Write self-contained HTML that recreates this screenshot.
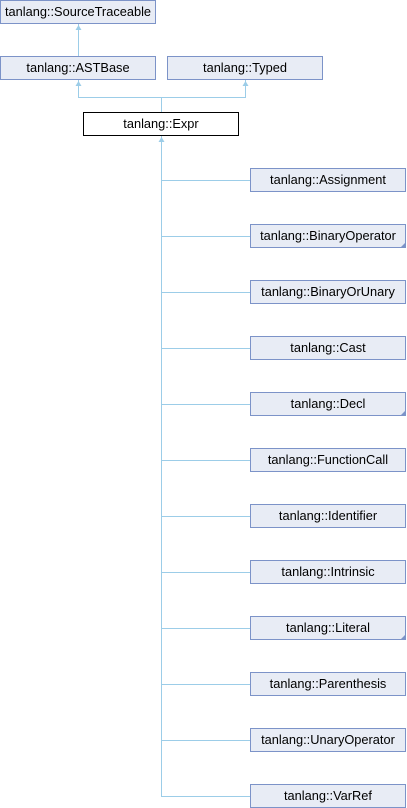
<!DOCTYPE html>
<html><head><meta charset="utf-8"><style>
html,body{margin:0;padding:0;background:#fff;}
svg{display:block;}
text{font-family:"Liberation Sans",sans-serif;font-size:12.8px;fill:#000;}
</style></head><body>
<svg width="407" height="808" viewBox="0 0 407 808" xmlns="http://www.w3.org/2000/svg">
<g stroke="#9ccde8" stroke-width="1" fill="none" shape-rendering="crispEdges">
<line x1="78.5" y1="24" x2="78.5" y2="56"/>
<line x1="78.5" y1="80" x2="78.5" y2="97.5"/>
<line x1="245.5" y1="80" x2="245.5" y2="97.5"/>
<line x1="78" y1="97.5" x2="246" y2="97.5"/>
<line x1="161.5" y1="97" x2="161.5" y2="112"/>
<line x1="161.5" y1="136" x2="161.5" y2="796.5"/>
</g>
<g fill="#9ccde8">
<polygon points="78.5,25 75.5,30 81.5,30"/>
<polygon points="78.5,81 75.5,86 81.5,86"/>
<polygon points="245.5,81 242.5,86 248.5,86"/>
<polygon points="161.5,137 158.5,142 164.5,142"/>
</g>
<g stroke="#7c93c8" stroke-width="1" fill="#e8ecf5" shape-rendering="crispEdges">
<rect x="0.5" y="0.5" width="155" height="23"/>
<rect x="0.5" y="56.5" width="155" height="23"/>
<rect x="167.5" y="56.5" width="155" height="23"/>
<rect x="83.5" y="112.5" width="155" height="23" fill="#fff" stroke="#000"/>
</g>
<text x="78" y="16" text-anchor="middle">tanlang::SourceTraceable</text>
<text x="78" y="72" text-anchor="middle">tanlang::ASTBase</text>
<text x="245" y="72" text-anchor="middle">tanlang::Typed</text>
<text x="161" y="128" text-anchor="middle">tanlang::Expr</text>
<g id="kids"></g>
</svg>
<script>
var names=["Assignment","BinaryOperator","BinaryOrUnary","Cast","Decl","FunctionCall","Identifier","Intrinsic","Literal","Parenthesis","UnaryOperator","VarRef"];
var corner={"BinaryOperator":1,"Decl":1,"Literal":1};
var ns="http://www.w3.org/2000/svg",k=document.getElementById("kids");
function el(t,a){var e=document.createElementNS(ns,t);for(var i in a)e.setAttribute(i,a[i]);k.appendChild(e);return e;}
names.forEach(function(n,i){var y=168+i*56;
el("line",{x1:161,y1:y+12.5,x2:250,y2:y+12.5,stroke:"#9ccde8","shape-rendering":"crispEdges"});
el("rect",{x:250.5,y:y+0.5,width:155,height:23,fill:"#e8ecf5",stroke:"#7c93c8","shape-rendering":"crispEdges"});
if(corner[n])el("polygon",{points:(406)+","+(y+18)+" "+406+","+(y+24)+" "+400+","+(y+24),fill:"#7c93c8"});
var t=el("text",{x:328,y:y+16,"text-anchor":"middle"});t.textContent="tanlang::"+n;});
</script>
</body></html>
